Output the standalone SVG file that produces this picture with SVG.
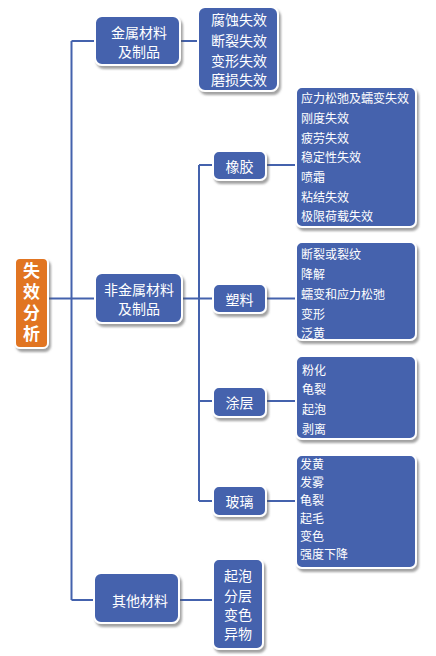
<svg xmlns="http://www.w3.org/2000/svg" width="436" height="656" viewBox="0 0 436 656">
<defs>
<filter id="sh" x="-20%" y="-20%" width="150%" height="150%">
<feDropShadow dx="2" dy="3" stdDeviation="1.2" flood-color="#555" flood-opacity="0.55"/>
</filter>
<style>
.box{fill:#4462ad;stroke:#fff;stroke-width:2;filter:url(#sh)}
.root{fill:#e17422;stroke:#fff;stroke-width:2;filter:url(#sh)}
.ln{stroke:#4462ad;stroke-width:2;fill:none}
text{fill:#fff;font-family:"Noto Sans CJK SC","Noto Sans",sans-serif;dominant-baseline:central}
.t14{font-size:14px}
.t12{font-size:12px}
.c{text-anchor:middle}
.rt{font-size:17px;font-weight:bold;text-anchor:start;writing-mode:vertical-rl;letter-spacing:4px}
</style>
</defs>
<rect width="436" height="656" fill="#fff"/>
<g id="connectors">
<path class="ln" d="M48 298.5H71.5M71.5 41V600M71.5 41H95M71.5 298.5H95M71.5 600H94"/>
<path class="ln" d="M180 41H198"/>
<path class="ln" d="M182 298.5H213M199 165V501M199 165H213M199 401H213M199 501H213"/>
<path class="ln" d="M266 165H296M266 298.5H296M266 401H296M266 501H296"/>
<path class="ln" d="M179 600H213"/>
</g>
<g id="root">
<rect class="root" x="15" y="258" width="33" height="90" rx="5"/>
<text class="rt" x="31.5" y="262.5">失效分析</text>
</g>
<g id="metal">
<rect class="box" x="95" y="16" width="85" height="49" rx="7"/>
<text class="t14 c" x="139" y="32">金属材料</text>
<text class="t14 c" x="139" y="51">及制品</text>
</g>
<g id="metal-leaf">
<rect class="box" x="198" y="7" width="80" height="84" rx="7"/>
<text class="t14 c" x="239" y="19">腐蚀失效</text>
<text class="t14 c" x="239" y="40">断裂失效</text>
<text class="t14 c" x="239" y="60">变形失效</text>
<text class="t14 c" x="239" y="79">磨损失效</text>
</g>
<g id="nonmetal">
<rect class="box" x="95" y="273" width="87" height="50" rx="7"/>
<text class="t14 c" x="139" y="289">非金属材料</text>
<text class="t14 c" x="139" y="308">及制品</text>
</g>
<g id="rubber">
<rect class="box" x="213" y="151" width="53" height="29" rx="6"/>
<text class="t14 c" x="239.5" y="165.5">橡胶</text>
</g>
<g id="rubber-leaf">
<rect class="box" x="296" y="87" width="120" height="140" rx="6"/>
<text class="t12" x="301" y="97">应力松弛及蠕变失效</text>
<text class="t12" x="301" y="117">刚度失效</text>
<text class="t12" x="301" y="137">疲劳失效</text>
<text class="t12" x="301" y="156">稳定性失效</text>
<text class="t12" x="301" y="176">喷霜</text>
<text class="t12" x="301" y="196">粘结失效</text>
<text class="t12" x="301" y="215">极限荷载失效</text>
</g>
<g id="plastic">
<rect class="box" x="213" y="284" width="53" height="29" rx="6"/>
<text class="t14 c" x="239.5" y="298.5">塑料</text>
</g>
<g id="plastic-leaf">
<rect class="box" x="296" y="242" width="120" height="98" rx="6"/>
<text class="t12" x="301" y="253">断裂或裂纹</text>
<text class="t12" x="301" y="273">降解</text>
<text class="t12" x="301" y="293">蠕变和应力松弛</text>
<text class="t12" x="301" y="313">变形</text>
<text class="t12" x="301" y="332">泛黄</text>
</g>
<g id="coating">
<rect class="box" x="213" y="387" width="53" height="30" rx="6"/>
<text class="t14 c" x="239.5" y="401.5">涂层</text>
</g>
<g id="coating-leaf">
<rect class="box" x="296" y="356" width="120" height="83" rx="6"/>
<text class="t12" x="302" y="369">粉化</text>
<text class="t12" x="302" y="388">龟裂</text>
<text class="t12" x="302" y="408">起泡</text>
<text class="t12" x="302" y="428">剥离</text>
</g>
<g id="glass">
<rect class="box" x="213" y="486" width="53" height="30" rx="6"/>
<text class="t14 c" x="239.5" y="501">玻璃</text>
</g>
<g id="glass-leaf">
<rect class="box" x="296" y="455" width="120" height="113" rx="6"/>
<text class="t12" x="300" y="463">发黄</text>
<text class="t12" x="300" y="481">发雾</text>
<text class="t12" x="300" y="499">龟裂</text>
<text class="t12" x="300" y="517">起毛</text>
<text class="t12" x="300" y="535">变色</text>
<text class="t12" x="300" y="553">强度下降</text>
</g>
<g id="other">
<rect class="box" x="94" y="573" width="85" height="50" rx="7"/>
<text class="t14 c" x="140" y="600">其他材料</text>
</g>
<g id="other-leaf">
<rect class="box" x="213" y="559" width="50" height="90" rx="6"/>
<text class="t14 c" x="238" y="575">起泡</text>
<text class="t14 c" x="238" y="595">分层</text>
<text class="t14 c" x="238" y="614">变色</text>
<text class="t14 c" x="238" y="633">异物</text>
</g>
</svg>
